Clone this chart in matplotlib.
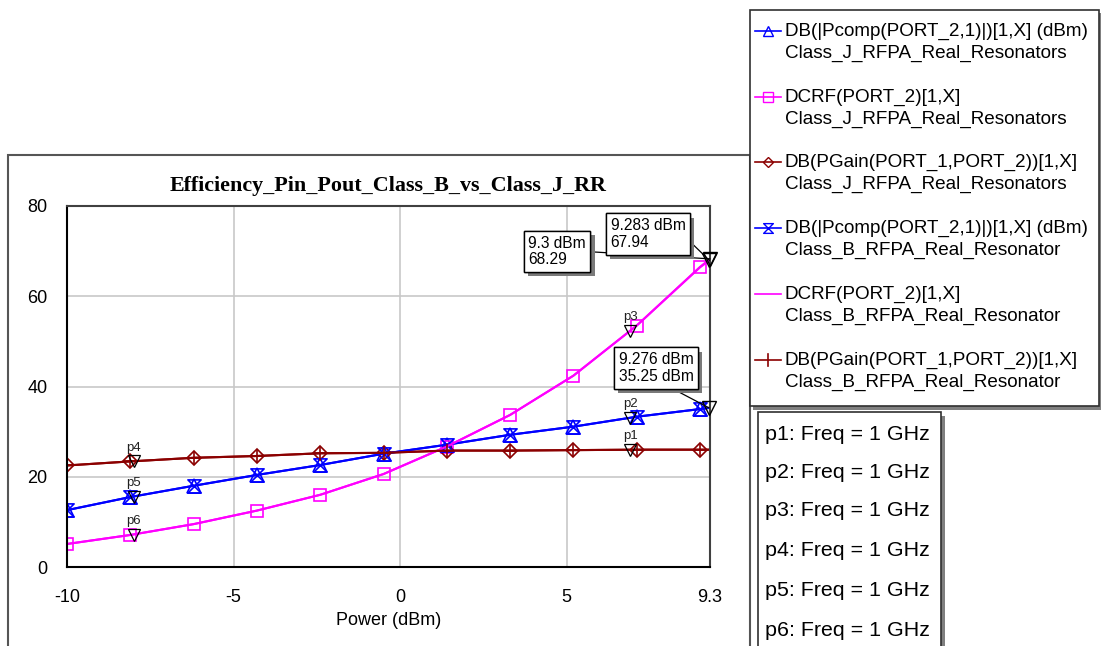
import matplotlib
matplotlib.use("Agg")
import matplotlib.pyplot as plt
from matplotlib.path import Path
from matplotlib.patches import Rectangle
from matplotlib.lines import Line2D
import matplotlib.patheffects as pe

# ---------------- data ----------------
# Input power sweep (dBm)
power_j = [-10, -8.1, -6.2, -4.3, -2.4, -0.5, 1.4, 3.3, 5.2, 7.1, 9.0, 9.3]
power_b = [-10, -8.1, -6.2, -4.3, -2.4, -0.5, 1.4, 3.3, 5.2, 7.1, 9.0, 9.283]

# Class J (real resonators)
pcomp_j = [12.6, 15.5, 18.0, 20.4, 22.6, 25.1, 27.1, 29.3, 31.1, 33.3, 35.0, 35.3]
dcrf_j = [5.1, 7.1, 9.5, 12.5, 16.0, 20.6, 26.7, 33.7, 42.4, 53.5, 66.5, 68.29]
pgain_j = [22.5, 23.4, 24.2, 24.6, 25.2, 25.3, 25.8, 25.8, 25.9, 26.0, 26.0, 26.0]

# Class B (real resonator)
pcomp_b = [12.6, 15.5, 18.0, 20.4, 22.6, 25.1, 27.1, 29.3, 31.1, 33.3, 35.0, 35.25]
dcrf_b = [5.1, 7.1, 9.5, 12.5, 16.0, 20.6, 26.7, 33.7, 42.4, 53.5, 66.4, 67.94]
pgain_b = [22.5, 23.4, 24.2, 24.6, 25.2, 25.3, 25.8, 25.8, 25.9, 26.0, 26.0, 26.0]

x_ticks = [-10, -5, 0, 5, 9.3]
x_tick_labels = ["-10", "-5", "0", "5", "9.3"]
y_ticks = [0, 20, 40, 60, 80]

# Named markers p1..p6
marker_names = ["p1", "p2", "p3", "p4", "p5", "p6"]
marker_power = [6.9, 6.9, 6.9, -8.0, -8.0, -8.0]
marker_values = [26.0, 33.0, 52.3, 23.4, 15.6, 7.2]
marker_freq = ["1 GHz"] * 6

# End-of-sweep readouts
readout_power = [9.3, 9.283, 9.276]
readout_value = [68.29, 67.94, 35.25]
readout_unit = ["", "", " dBm"]

legend_labels = [
    ("DB(|Pcomp(PORT_2,1)|)[1,X] (dBm)", "Class_J_RFPA_Real_Resonators"),
    ("DCRF(PORT_2)[1,X]", "Class_J_RFPA_Real_Resonators"),
    ("DB(PGain(PORT_1,PORT_2))[1,X]", "Class_J_RFPA_Real_Resonators"),
    ("DB(|Pcomp(PORT_2,1)|)[1,X] (dBm)", "Class_B_RFPA_Real_Resonator"),
    ("DCRF(PORT_2)[1,X]", "Class_B_RFPA_Real_Resonator"),
    ("DB(PGain(PORT_1,PORT_2))[1,X]", "Class_B_RFPA_Real_Resonator"),
]

# ---------------- styling ----------------
BLUE = "#0000FF"
MAGENTA = "#FF00FF"
DARKRED = "#8B0000"
SANS = ["Liberation Sans", "DejaVu Sans"]
SERIF = ["Liberation Serif", "DejaVu Serif"]

hourglass = Path([(-1, 1), (1, 1), (-1, -1), (1, -1), (-1, 1)],
                 [Path.MOVETO, Path.LINETO, Path.LINETO, Path.LINETO, Path.CLOSEPOLY])

W, H = 1101, 646
fig = plt.figure(figsize=(W / 100, H / 100), dpi=100)
fig.patch.set_facecolor("white")


def fx(px):
    return px / W


def fy(py):
    return 1 - py / H


# graph window frame
fig.add_artist(Rectangle((fx(8), fy(700)), fx(750) - fx(8), fy(155) - fy(700),
                         transform=fig.transFigure, fill=False,
                         ec="#555555", lw=1.5, zorder=0))

ax = fig.add_axes([fx(67), fy(567), fx(710) - fx(67), fy(206) - fy(567)])
ax.set_xlim(-10, 9.3)
ax.set_ylim(0, 80)
ax.set_xticks(x_ticks)
ax.set_xticklabels(x_tick_labels)
ax.set_yticks(y_ticks)
ax.grid(True, color="#c8c8c8", lw=1.2)
ax.set_axisbelow(True)
ax.tick_params(length=0, labelsize=13)
ax.tick_params(axis="y", pad=14)
ax.tick_params(axis="x", pad=15.5)
for lab in ax.get_xticklabels() + ax.get_yticklabels():
    lab.set_fontfamily(SANS)
for side in ("left", "bottom"):
    ax.spines[side].set_color("black")
    ax.spines[side].set_linewidth(1.5)
for side in ("top", "right"):
    ax.spines[side].set_color("#404040")
    ax.spines[side].set_linewidth(1.5)

ax.set_xlabel("Power (dBm)", fontsize=13, family=SANS)
ax.xaxis.set_label_coords(0.5, -0.147)
ax.xaxis.label.set_verticalalignment("center")

ax.set_title("Efficiency_Pin_Pout_Class_B_vs_Class_J_RR", family=SERIF,
             fontweight="bold", fontsize=15.8, pad=10.5)

mk = slice(0, 11)
lw = 1.5
# Class J
ax.plot(power_j, pcomp_j, color=BLUE, lw=lw, marker="^", ms=9.5, mfc="none",
        mew=1.2, markevery=mk)
ax.plot(power_j, dcrf_j, color=MAGENTA, lw=lw, marker="s", ms=8.5, mfc="none",
        mew=1.2, markevery=mk)
ax.plot(power_j, pgain_j, color=DARKRED, lw=lw, marker="D", ms=7, mfc="none",
        mew=1.2, markevery=mk)
# Class B
ax.plot(power_b, pcomp_b, color=BLUE, lw=lw, marker=hourglass, ms=9.5, mfc="none",
        mew=1.2, markevery=mk)
ax.plot(power_b, dcrf_b, color=MAGENTA, lw=lw)
ax.plot(power_b, pgain_b, color=DARKRED, lw=lw, marker="+", ms=10,
        mew=1.2, markevery=mk)

# named markers
for name, px_, val in zip(marker_names, marker_power, marker_values):
    ax.plot([px_], [val], marker="v", ms=9, mfc="none", mec="black", mew=0.9,
            ls="none", zorder=5)
    ax.annotate(name, (px_, val), xytext=(0, 5.5), textcoords="offset points",
                ha="center", va="bottom", fontsize=9.5, family=SANS,
                color="#202020", zorder=6)

# end-of-sweep readouts
box_centers = [(557, 251.5), (648, 234), (656, 368)]
rel_pos = [(1.0, 0.5), (1.0, 0.4), (0.6, 0.0)]
for xv, yv, unit, (cx, cy), rp in zip(readout_power, readout_value,
                                      readout_unit, box_centers, rel_pos):
    ax.plot([xv], [yv], marker="v", ms=10, mfc="none", mec="black", mew=1.0,
            ls="none", clip_on=False, zorder=7)
    txt = f"{xv:g} dBm\n{yv:.2f}{unit}"
    t = ax.annotate(txt, (xv, yv), xytext=(cx, H - cy),
                    textcoords="figure pixels", ha="center", va="center",
                    multialignment="left", fontsize=11.2, family=SANS,
                    linespacing=1.15,
                    bbox=dict(boxstyle="square,pad=0.3", fc="white",
                              ec="black", lw=1.0),
                    arrowprops=dict(arrowstyle="-", color="black", lw=0.9,
                                    shrinkA=0, shrinkB=0, relpos=rp),
                    annotation_clip=False, zorder=8)
    t.get_bbox_patch().set_path_effects(
        [pe.withSimplePatchShadow(offset=(3, -3), shadow_rgbFace="#7a7a7a",
                                  alpha=1.0), pe.Normal()])

# ---------------- trace legend ----------------
fig.add_artist(Rectangle((fx(753), fy(410)), fx(1104) - fx(753), fy(13) - fy(410),
                         transform=fig.transFigure, fc="#808080", ec="none",
                         zorder=1))
fig.add_artist(Rectangle((fx(750), fy(406)), fx(1099) - fx(750), fy(10) - fy(406),
                         transform=fig.transFigure, fc="white", ec="#303030",
                         lw=1.2, zorder=2))

legend_styles = [
    dict(color=BLUE, marker="^", ms=7),
    dict(color=MAGENTA, marker="s", ms=7),
    dict(color=DARKRED, marker="D", ms=5.5),
    dict(color=BLUE, marker=hourglass, ms=7),
    dict(color=MAGENTA, marker=None, ms=0),
    dict(color=DARKRED, marker=None, ms=0),
]
entry_y = [31, 97, 162, 228, 294, 360]
for (l1, l2), sty, ey in zip(legend_labels, legend_styles, entry_y):
    ln = Line2D([fx(755), fx(768), fx(781)], [fy(ey)] * 3,
                transform=fig.transFigure, color=sty["color"], lw=1.2,
                marker=sty["marker"], ms=sty["ms"], mfc="none", mew=1.0,
                markevery=[1], zorder=3)
    fig.add_artist(ln)
    fig.text(fx(785), fy(ey), l1, ha="left", va="center", fontsize=13.6,
             family=SANS, zorder=3)
    fig.text(fx(785), fy(ey + 22.5), l2, ha="left", va="center", fontsize=13.6,
             family=SANS, zorder=3)
# plus marker sample for the Class B gain trace
fig.add_artist(Line2D([fx(768), fx(768)], [fy(360 - 6), fy(360 + 6)],
                      transform=fig.transFigure, color=DARKRED, lw=1.2,
                      zorder=3))

# ---------------- marker legend ----------------
fig.add_artist(Rectangle((fx(761), fy(700)), fx(945) - fx(761), fy(416) - fy(700),
                         transform=fig.transFigure, fc="#808080", ec="none",
                         zorder=1))
fig.add_artist(Rectangle((fx(758), fy(700)), fx(941) - fx(758), fy(412) - fy(700),
                         transform=fig.transFigure, fc="white", ec="#303030",
                         lw=1.2, zorder=2))
marker_line_y = [435, 472, 511, 550, 590, 630]
for name, freq, my in zip(marker_names, marker_freq, marker_line_y):
    fig.text(fx(765), fy(my), f"{name}: Freq = {freq}", ha="left", va="center",
             fontsize=15.4, family=SANS, zorder=3)

fig.savefig("out.png", dpi=100)
